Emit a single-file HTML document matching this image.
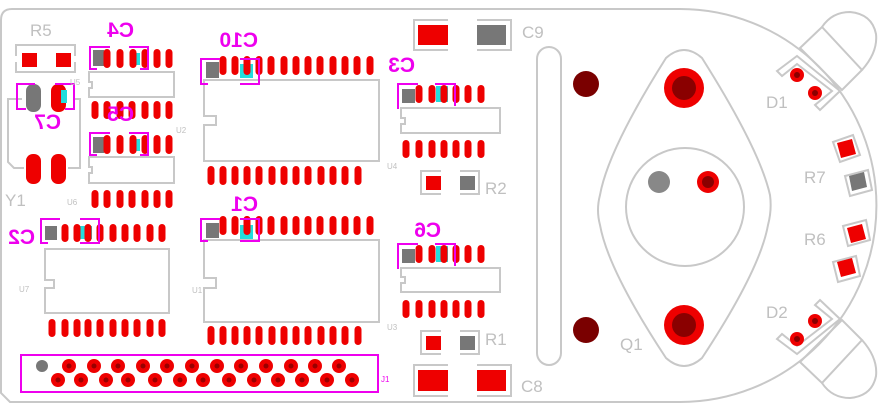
<!DOCTYPE html>
<html><head><meta charset="utf-8"><style>
html,body{margin:0;padding:0;background:#fff;}
svg{display:block;}
text{font-family:"Liberation Sans",sans-serif;}
</style></head><body>
<svg width="879" height="406" viewBox="0 0 879 406" xmlns="http://www.w3.org/2000/svg">
<defs>
<rect id="p" x="-3.5" y="0" width="7" height="19" rx="3.5" fill="#ee0000"/>
<rect id="ps" x="-3.5" y="0" width="7" height="18" rx="3.5" fill="#ee0000"/>
</defs>
<g fill="none" stroke="#c8c8c8" stroke-width="2">
<path d="M12 9 L680 9 A196 196 0 0 1 680 402 L10 402 L1 393 L1 20 Q1 9 12 9"/>
<path d="M16 56 V45 H75 V56 M16 62 V72 H75 V62"/>
<path d="M22 99 H8 V162 L14 168 H24 M68 168 H80 V99 H74"/>
<path d="M89 72 H174 V97 H89 V88 H92 V82 H89 Z"/>
<path d="M89 157 H174 V183 H89 V173 H92 V167 H89 Z"/>
<path d="M204 80 H379 V161 H204 V125 H216 V116 H204 Z"/>
<path d="M204 240 H379 V322 H204 V288 H216 V278 H204 Z"/>
<path d="M45 249 H169 V313 H45 V288 H54 V280 H45 Z"/>
<path d="M401 108 H500 V133 H401 V124 H405 V118 H401 Z"/>
<path d="M401 268 H500 V292 H401 V283 H405 V277 H401 Z"/>
<path d="M448 20 H414 V50 H448 M477 20 H511 V50 H477"/>
<path d="M448 365 H414 V396 H448 M477 365 H511 V396 H477"/>
<path d="M441 171 H421 V194 H441 M460 171 H479 V194 H460"/>
<path d="M441 331 H421 V354 H441 M460 331 H479 V354 H460"/>
<rect x="537" y="47" width="24" height="318" rx="12"/>
<path d="M666 58 Q684 42 702 58 Q760 150 770 195 Q772 210 768 225 Q760 270 702 358 Q684 374 666 358 Q608 270 600 225 Q596 210 600 195 Q608 150 666 58 Z"/>
<circle cx="685" cy="207" r="59"/>
<path d="M833 142 L853 135 L860 155 L840 162 Z"/>
<path d="M845 176 L868 170 L872 190 L850 196 Z"/>
<path d="M843 226 L866 220 L870 240 L848 246 Z"/>
<path d="M833 262 L856 256 L860 276 L838 282 Z"/>
<g>
<path d="M800 48 L822 27 L862 70 L842 90 Z"/>
<path d="M822 27 Q832 12 850 12 Q872 14 876 34 Q878 52 862 70"/>
<path d="M777 71 L797 56 L840 91 L820 110 L815 105 L832 91 L797 64 L782 76 Z"/>
</g>
<g transform="translate(0,410) scale(1,-1)">
<path d="M800 48 L822 27 L862 70 L842 90 Z"/>
<path d="M822 27 Q832 12 850 12 Q872 14 876 34 Q878 52 862 70"/>
<path d="M777 71 L797 56 L840 91 L820 110 L815 105 L832 91 L797 64 L782 76 Z"/>
</g>
</g>
<g>
<rect x="22" y="53" width="15" height="14" fill="#ee0000"/>
<rect x="56" y="53" width="15" height="14" fill="#ee0000"/>
<rect x="26" y="84" width="15" height="28" rx="7" fill="#777"/>
<rect x="51" y="84" width="15" height="28" rx="7" fill="#ee0000"/>
<rect x="61" y="90" width="6" height="13" fill="#22dddd"/>
<rect x="26" y="154" width="15" height="30" rx="7" fill="#ee0000"/>
<rect x="51" y="154" width="15" height="30" rx="7" fill="#ee0000"/>
</g>
<g>
<rect x="93" y="50" width="11" height="16" fill="#777"/>
<use href="#p" x="107" y="49"/><use href="#p" x="120" y="49"/><rect x="130" y="53" width="10" height="12" fill="#22dddd"/><use href="#p" x="145" y="49"/><use href="#p" x="157" y="49"/><use href="#p" x="169" y="49"/><use href="#p" x="133" y="49"/>
<use href="#ps" x="95" y="101"/><use href="#ps" x="107" y="101"/><use href="#ps" x="120" y="101"/><use href="#ps" x="132" y="101"/><use href="#ps" x="145" y="101"/><use href="#ps" x="157" y="101"/><use href="#ps" x="169" y="101"/>
<rect x="93" y="137" width="11" height="16" fill="#777"/>
<use href="#p" x="107" y="135"/><use href="#p" x="120" y="135"/><rect x="130" y="139" width="10" height="12" fill="#22dddd"/><use href="#p" x="133" y="135"/><use href="#p" x="145" y="135"/><use href="#p" x="157" y="135"/><use href="#p" x="169" y="135"/>
<use href="#ps" x="95" y="190"/><use href="#ps" x="107" y="190"/><use href="#ps" x="120" y="190"/><use href="#ps" x="132" y="190"/><use href="#ps" x="145" y="190"/><use href="#ps" x="157" y="190"/><use href="#ps" x="169" y="190"/>
<rect x="206" y="62" width="13" height="16" fill="#777"/>
<rect x="240" y="64" width="13" height="14" fill="#22dddd"/>
<g id="row14a">
<use href="#p" x="223" y="56"/><use href="#p" x="235" y="56"/><use href="#p" x="247" y="56"/><use href="#p" x="259" y="56"/><use href="#p" x="271" y="56"/><use href="#p" x="284" y="56"/><use href="#p" x="296" y="56"/><use href="#p" x="308" y="56"/><use href="#p" x="320" y="56"/><use href="#p" x="333" y="56"/><use href="#p" x="345" y="56"/><use href="#p" x="357" y="56"/><use href="#p" x="370" y="56"/>
</g>
<g transform="translate(-12,110)"><use href="#row14a"/></g>
<g transform="translate(0,160)"><use href="#row14a"/></g>
<rect x="206" y="223" width="13" height="15" fill="#777"/>
<rect x="240" y="225" width="13" height="14" fill="#22dddd"/>
<use href="#p" x="247" y="216"/>
<g transform="translate(-12,270)"><use href="#row14a"/></g>
<rect x="45" y="226" width="12" height="14" fill="#777"/>
<rect x="80" y="226" width="12" height="13" fill="#22dddd"/>
<use href="#ps" x="65" y="224"/><use href="#ps" x="77" y="224"/><use href="#ps" x="88" y="224"/><use href="#ps" x="100" y="224"/><use href="#ps" x="113" y="224"/><use href="#ps" x="125" y="224"/><use href="#ps" x="137" y="224"/><use href="#ps" x="150" y="224"/><use href="#ps" x="162" y="224"/>
<use href="#ps" x="52" y="319"/><use href="#ps" x="65" y="319"/><use href="#ps" x="77" y="319"/><use href="#ps" x="88" y="319"/><use href="#ps" x="100" y="319"/><use href="#ps" x="113" y="319"/><use href="#ps" x="125" y="319"/><use href="#ps" x="137" y="319"/><use href="#ps" x="150" y="319"/><use href="#ps" x="162" y="319"/>
<rect x="402" y="89" width="13" height="14" fill="#777"/>
<rect x="436" y="86" width="12" height="16" fill="#22dddd"/>
<use href="#ps" x="419" y="85"/><use href="#ps" x="432" y="85"/><use href="#ps" x="444" y="85"/><use href="#ps" x="456" y="85"/><use href="#ps" x="468" y="85"/><use href="#ps" x="481" y="85"/>
<use href="#ps" x="406" y="140"/><use href="#ps" x="419" y="140"/><use href="#ps" x="432" y="140"/><use href="#ps" x="444" y="140"/><use href="#ps" x="456" y="140"/><use href="#ps" x="468" y="140"/><use href="#ps" x="481" y="140"/>
<rect x="402" y="249" width="13" height="14" fill="#777"/>
<rect x="436" y="246" width="12" height="16" fill="#22dddd"/>
<use href="#ps" x="419" y="245"/><use href="#ps" x="432" y="245"/><use href="#ps" x="444" y="245"/><use href="#ps" x="456" y="245"/><use href="#ps" x="468" y="245"/><use href="#ps" x="481" y="245"/>
<use href="#ps" x="406" y="300"/><use href="#ps" x="419" y="300"/><use href="#ps" x="432" y="300"/><use href="#ps" x="444" y="300"/><use href="#ps" x="456" y="300"/><use href="#ps" x="468" y="300"/><use href="#ps" x="481" y="300"/>
<rect x="418" y="25" width="30" height="20" fill="#ee0000"/>
<rect x="477" y="25" width="29" height="20" fill="#777"/>
<rect x="418" y="370" width="30" height="21" fill="#ee0000"/>
<rect x="477" y="370" width="29" height="21" fill="#ee0000"/>
<rect x="426" y="176" width="15" height="14" fill="#ee0000"/>
<rect x="460" y="176" width="15" height="14" fill="#777"/>
<rect x="426" y="336" width="15" height="14" fill="#ee0000"/>
<rect x="460" y="336" width="15" height="14" fill="#777"/>
</g>
<g fill="none" stroke="#ee00ee" stroke-width="2">
<path d="M110 47 H90 V69 H97 M129 47 H148 V69 H140"/>
<path d="M110 133 H90 V155 H97 M129 133 H148 V155 H140"/>
<path d="M220 59 H201 V84 H208 M240 59 H259 V84 H240"/>
<path d="M220 219 H201 V241 H208 M240 219 H259 V241 H240"/>
<path d="M60 219 H41 V243 H48 M80 219 H99 V243 H80"/>
<path d="M35 84 H17 V109 H26 M55 84 H74 V109 H65"/>
<path d="M418 84 H398 V109 M435 84 H455 V106"/>
<path d="M418 244 H398 V269 M435 244 H455 V266"/>
<rect x="21" y="355" width="357" height="37"/>
</g>
<g fill="#ee0000">
<circle cx="42" cy="366" r="6" fill="#777"/>
<circle cx="69" cy="366" r="7"/><circle cx="94" cy="366" r="7"/><circle cx="118" cy="366" r="7"/><circle cx="143" cy="366" r="7"/><circle cx="167" cy="366" r="7"/><circle cx="192" cy="366" r="7"/><circle cx="217" cy="366" r="7"/><circle cx="241" cy="366" r="7"/><circle cx="266" cy="366" r="7"/><circle cx="291" cy="366" r="7"/><circle cx="315" cy="366" r="7"/><circle cx="339" cy="366" r="7"/>
<circle cx="58" cy="380" r="7"/><circle cx="81" cy="380" r="7"/><circle cx="106" cy="380" r="7"/><circle cx="128" cy="380" r="7"/><circle cx="155" cy="380" r="7"/><circle cx="180" cy="380" r="7"/><circle cx="203" cy="380" r="7"/><circle cx="229" cy="380" r="7"/><circle cx="254" cy="380" r="7"/><circle cx="278" cy="380" r="7"/><circle cx="302" cy="380" r="7"/><circle cx="327" cy="380" r="7"/><circle cx="352" cy="380" r="7"/>
</g>
<g fill="#990000">
<circle cx="69" cy="366" r="2.5"/><circle cx="94" cy="366" r="2.5"/><circle cx="118" cy="366" r="2.5"/><circle cx="143" cy="366" r="2.5"/><circle cx="167" cy="366" r="2.5"/><circle cx="192" cy="366" r="2.5"/><circle cx="217" cy="366" r="2.5"/><circle cx="241" cy="366" r="2.5"/><circle cx="266" cy="366" r="2.5"/><circle cx="291" cy="366" r="2.5"/><circle cx="315" cy="366" r="2.5"/><circle cx="339" cy="366" r="2.5"/>
<circle cx="58" cy="380" r="2.5"/><circle cx="81" cy="380" r="2.5"/><circle cx="106" cy="380" r="2.5"/><circle cx="128" cy="380" r="2.5"/><circle cx="155" cy="380" r="2.5"/><circle cx="180" cy="380" r="2.5"/><circle cx="203" cy="380" r="2.5"/><circle cx="229" cy="380" r="2.5"/><circle cx="254" cy="380" r="2.5"/><circle cx="278" cy="380" r="2.5"/><circle cx="302" cy="380" r="2.5"/><circle cx="327" cy="380" r="2.5"/><circle cx="352" cy="380" r="2.5"/>
</g>
<circle cx="586" cy="84" r="13" fill="#7a0000"/>
<circle cx="586" cy="330" r="13" fill="#7a0000"/>
<circle cx="684" cy="88" r="20" fill="#ee0000"/><circle cx="684" cy="88" r="12" fill="#8a0000"/>
<circle cx="684" cy="325" r="20" fill="#ee0000"/><circle cx="684" cy="325" r="12" fill="#8a0000"/>
<circle cx="659" cy="182" r="11" fill="#888"/>
<circle cx="708" cy="182" r="11" fill="#ee0000"/><circle cx="708" cy="182" r="6" fill="#8a0000"/>
<g fill="#ee0000"><circle cx="797" cy="75" r="7"/><circle cx="815" cy="93" r="7"/><circle cx="797" cy="339" r="7"/><circle cx="815" cy="321" r="7"/></g>
<g fill="#8a0000"><circle cx="797" cy="75" r="3"/><circle cx="815" cy="93" r="3"/><circle cx="797" cy="339" r="3"/><circle cx="815" cy="321" r="3"/></g>
<path d="M837 143 L852 139 L856 154 L841 158 Z" fill="#ee0000"/>
<path d="M849 176 L864 172 L867 187 L852 191 Z" fill="#777"/>
<path d="M847 228 L862 224 L866 239 L851 243 Z" fill="#ee0000"/>
<path d="M837 262 L852 258 L856 273 L841 277 Z" fill="#ee0000"/>
<g fill="#c0c0c0" font-size="17">
<text x="30" y="36">R5</text>
<text x="5" y="206">Y1</text>
<text x="522" y="38">C9</text>
<text x="485" y="194">R2</text>
<text x="485" y="345">R1</text>
<text x="521" y="392">C8</text>
<text x="620" y="350">Q1</text>
<text x="766" y="108">D1</text>
<text x="804" y="183">R7</text>
<text x="804" y="245">R6</text>
<text x="766" y="318">D2</text>
</g>
<g fill="#c0c0c0" font-size="8">
<text x="70" y="85">U5</text><text x="176" y="133">U2</text><text x="67" y="205">U6</text><text x="19" y="292">U7</text><text x="192" y="293">U1</text><text x="387" y="169">U4</text><text x="387" y="330">U3</text>
</g>
<text x="381" y="382" font-size="8" fill="#ee00ee">J1</text>
<g fill="#ee00ee" font-size="21" font-weight="bold">
<text transform="translate(134,37) scale(-1,1)">C4</text>
<text transform="translate(134,121) scale(-1,1)">C5</text>
<text transform="translate(258,47) scale(-1,1)">C10</text>
<text transform="translate(61,129) scale(-1,1)">C7</text>
<text transform="translate(258,211) scale(-1,1)">C1</text>
<text transform="translate(35,244) scale(-1,1)">C2</text>
<text transform="translate(415,72) scale(-1,1)">C3</text>
<text transform="translate(441,237) scale(-1,1)">C6</text>
</g>
</svg>
</body></html>
